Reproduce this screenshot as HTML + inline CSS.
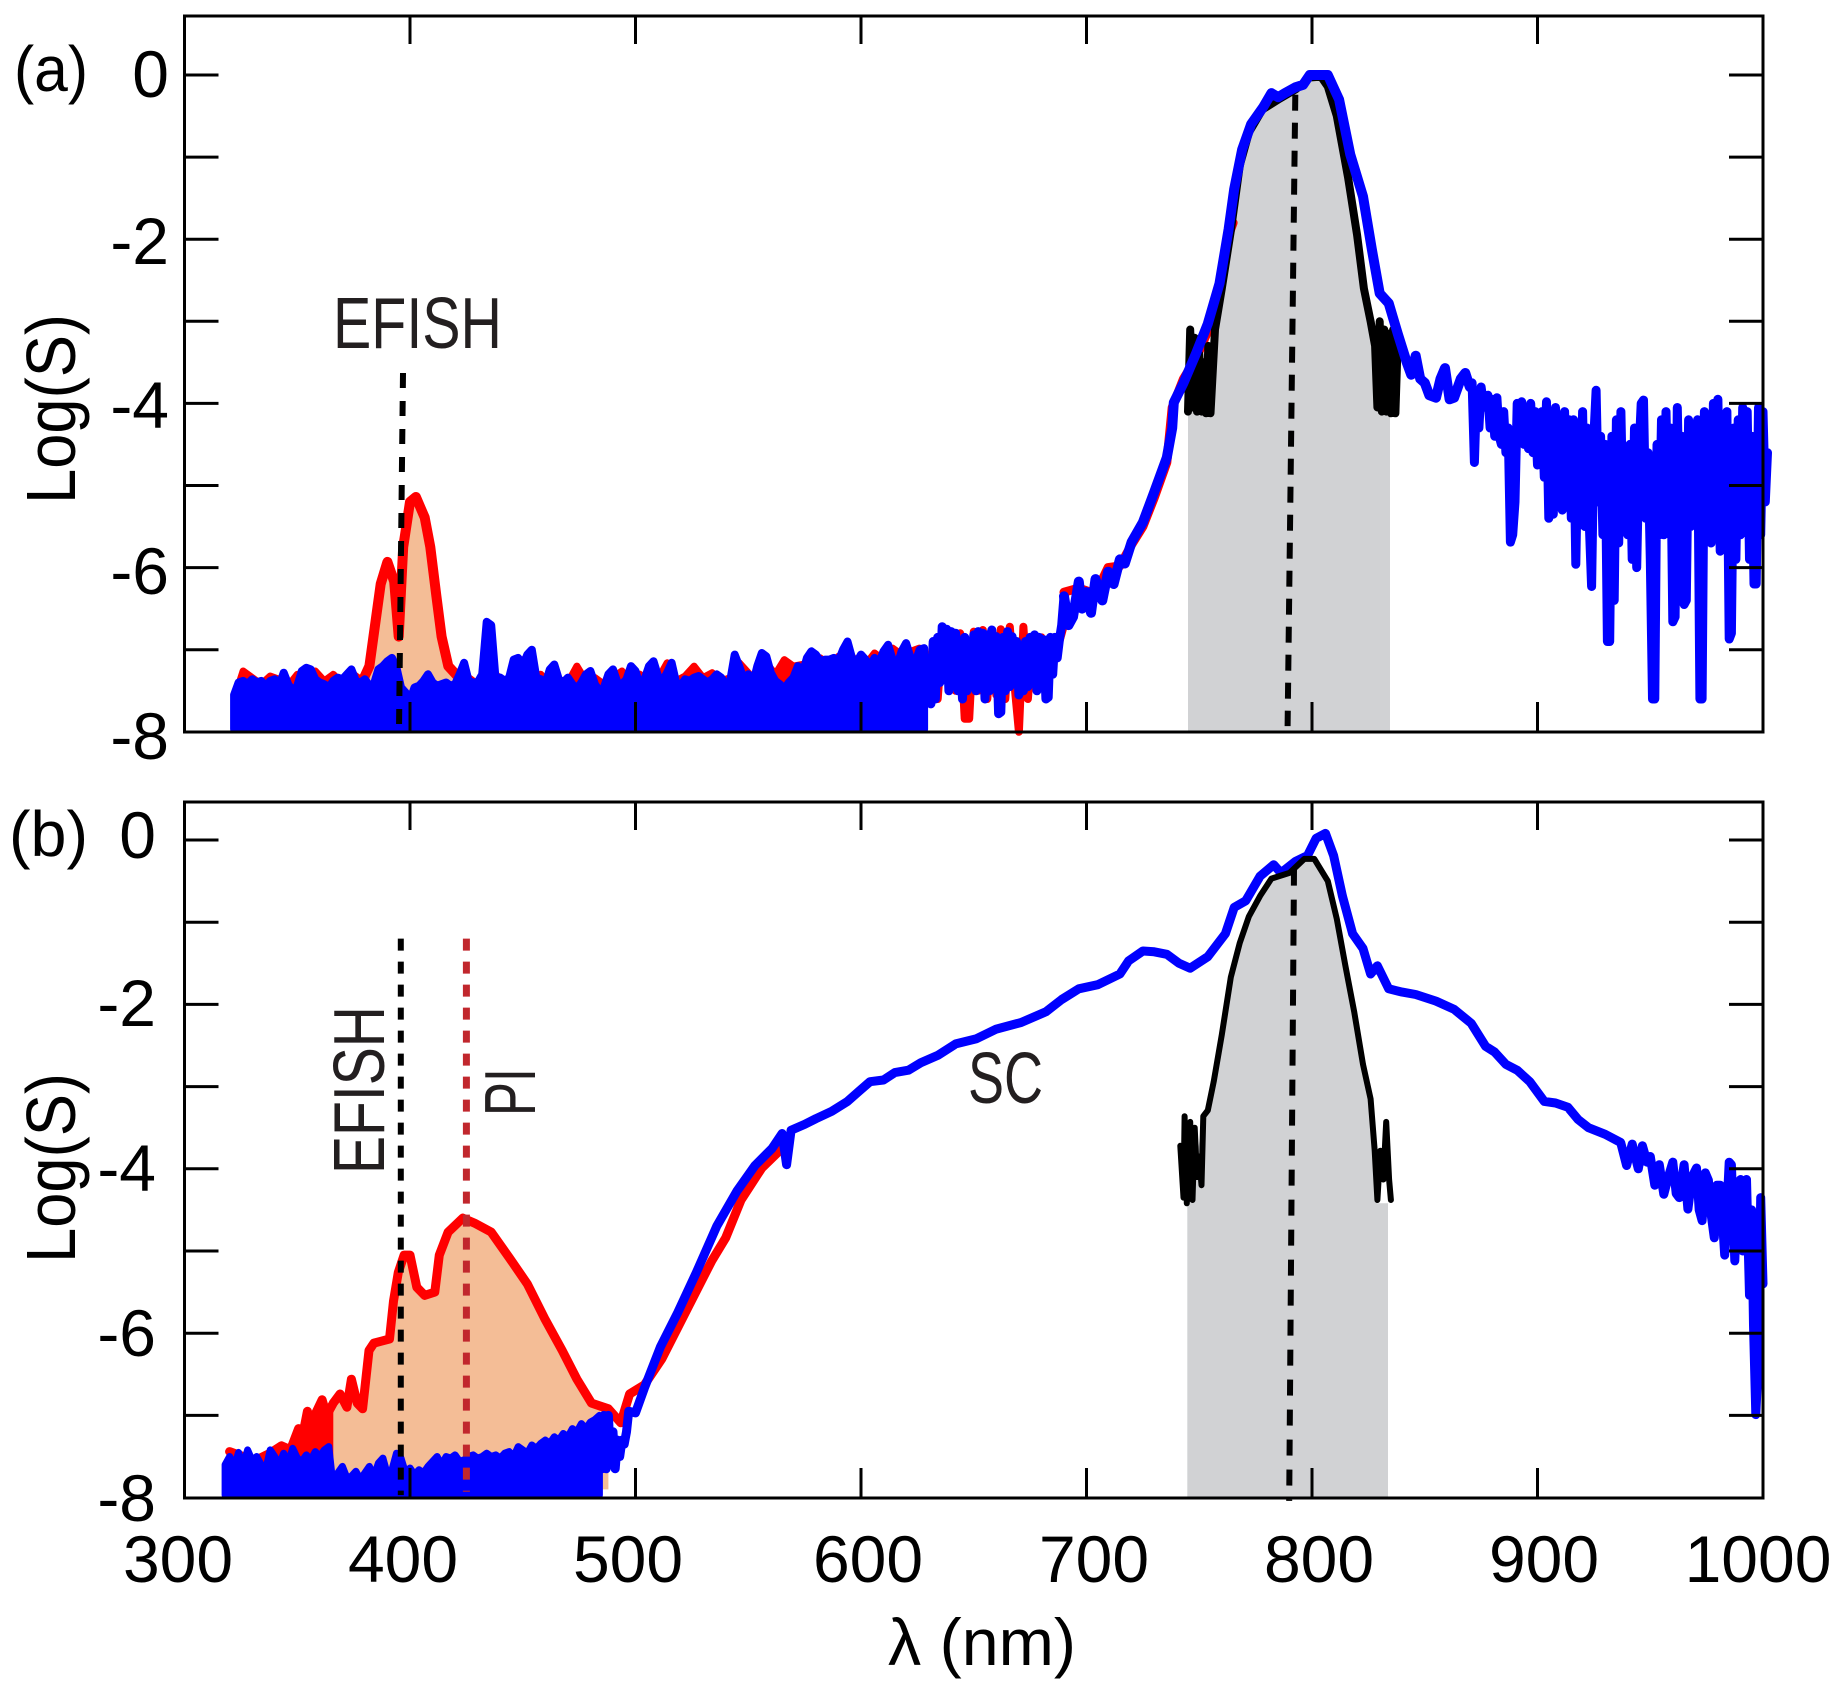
<!DOCTYPE html>
<html lang="en">
<head>
<meta charset="utf-8">
<title>Log(S) spectra, panels (a) and (b)</title>
<style>
html,body{margin:0;padding:0;background:#fff}
svg{display:block}
text{font-family:"Liberation Sans",sans-serif;fill:#000}
</style>
</head>
<body>
<svg id="chart" xmlns="http://www.w3.org/2000/svg" width="1840" height="1688" viewBox="0 0 1840 1688">
<rect x="0" y="0" width="1840" height="1688" fill="#ffffff"/>
<g id="marks"></g>
<g id="overlay"></g>
<g>
<text x="14" y="91" font-size="64" textLength="74" lengthAdjust="spacingAndGlyphs">(a)</text>
<text x="9" y="856" font-size="64" textLength="79" lengthAdjust="spacingAndGlyphs">(b)</text>
<text transform="translate(75,504) rotate(-90)" font-size="70" textLength="190" lengthAdjust="spacingAndGlyphs">Log(S)</text>
<text transform="translate(75,1263) rotate(-90)" font-size="70" textLength="190" lengthAdjust="spacingAndGlyphs">Log(S)</text>
<text x="169" y="97" font-size="66" text-anchor="end">0</text>
<text x="169" y="264" font-size="66" text-anchor="end">-2</text>
<text x="169" y="428" font-size="66" text-anchor="end">-4</text>
<text x="169" y="594" font-size="66" text-anchor="end">-6</text>
<text x="169" y="759" font-size="66" text-anchor="end">-8</text>
<text x="156" y="858" font-size="66" text-anchor="end">0</text>
<text x="156" y="1026" font-size="66" text-anchor="end">-2</text>
<text x="156" y="1191" font-size="66" text-anchor="end">-4</text>
<text x="156" y="1356" font-size="66" text-anchor="end">-6</text>
<text x="156" y="1521" font-size="66" text-anchor="end">-8</text>
<text x="178" y="1582" font-size="66" text-anchor="middle">300</text>
<text x="403" y="1582" font-size="66" text-anchor="middle">400</text>
<text x="628" y="1582" font-size="66" text-anchor="middle">500</text>
<text x="868" y="1582" font-size="66" text-anchor="middle">600</text>
<text x="1094" y="1582" font-size="66" text-anchor="middle">700</text>
<text x="1319" y="1582" font-size="66" text-anchor="middle">800</text>
<text x="1544" y="1582" font-size="66" text-anchor="middle">900</text>
<text x="1758" y="1582" font-size="66" text-anchor="middle">1000</text>
<text x="888" y="1665" font-size="66" textLength="188" lengthAdjust="spacingAndGlyphs">λ (nm)</text>
<text x="333" y="348" font-size="72" textLength="169" lengthAdjust="spacingAndGlyphs" style="fill:#231f20">EFISH</text>
<text transform="translate(384,1174) rotate(-90)" font-size="72" textLength="168" lengthAdjust="spacingAndGlyphs" style="fill:#231f20">EFISH</text>
<text transform="translate(535,1116) rotate(-90)" font-size="72" textLength="48" lengthAdjust="spacingAndGlyphs" style="fill:#231f20">PI</text>
<text x="968" y="1103" font-size="72" textLength="75" lengthAdjust="spacingAndGlyphs" style="fill:#231f20">SC</text>
</g>
</svg>
<script>
const xTicks = [300,400,500,600,700,800,900,1000];
const yTicks = [0,-1,-2,-3,-4,-5,-6,-7,-8];

const floorStart = 322;
const floorStep = 2;
const aBlueFloor = [-7.55,-7.4,-7.38,-7.42,-7.36,-7.4,-7.38,-7.45,-7.38,-7.36,-7.44,-7.28,-7.42,-7.5,-7.44,-7.26,-7.22,-7.24,-7.36,-7.4,-7.42,-7.46,-7.38,-7.34,-7.36,-7.3,-7.24,-7.38,-7.4,-7.36,-7.44,-7.42,-7.24,-7.2,-7.14,-7.1,-7.22,-7.46,-7.52,-7.62,-7.46,-7.44,-7.38,-7.3,-7.4,-7.44,-7.42,-7.4,-7.44,-7.42,-7.3,-7.16,-7.38,-7.4,-7.4,-7.3,-6.66,-6.7,-7.38,-7.34,-7.38,-7.34,-7.12,-7.1,-7.2,-7.06,-7.0,-7.34,-7.36,-7.42,-7.24,-7.18,-7.36,-7.4,-7.34,-7.42,-7.48,-7.4,-7.3,-7.26,-7.42,-7.5,-7.46,-7.3,-7.24,-7.4,-7.42,-7.36,-7.2,-7.26,-7.44,-7.36,-7.2,-7.14,-7.32,-7.38,-7.28,-7.16,-7.4,-7.44,-7.36,-7.38,-7.34,-7.32,-7.36,-7.4,-7.36,-7.3,-7.34,-7.42,-7.38,-7.06,-7.2,-7.36,-7.3,-7.42,-7.2,-7.04,-7.08,-7.28,-7.38,-7.42,-7.48,-7.4,-7.34,-7.2,-7.3,-7.1,-7.02,-7.06,-7.14,-7.12,-7.12,-7.1,-7.14,-7.0,-6.9,-7.1,-7.16,-7.06,-7.12,-7.2,-7.1,-7.16,-7.02,-6.94,-7.12,-7.2,-7.02,-6.92,-7.1,-7.16,-7.0,-6.98];
const aRedFloorStep = 4;
const aRedFloor = [-7.6,-7.26,-7.34,-7.42,-7.32,-7.36,-7.44,-7.3,-7.4,-7.26,-7.38,-7.3,-7.42,-7.28,-7.36,-7.34,-7.44,-7.4,-7.48,-7.44,-7.4,-7.42,-7.34,-7.08,-7.38,-7.4,-7.34,-7.42,-7.36,-7.3,-7.4,-7.38,-7.12,-7.38,-7.3,-7.44,-7.36,-7.4,-7.2,-7.38,-7.34,-7.42,-7.34,-7.26,-7.4,-7.3,-7.38,-7.36,-7.16,-7.38,-7.32,-7.2,-7.34,-7.28,-7.38,-7.34,-7.16,-7.28,-7.4,-7.16,-7.3,-7.12,-7.2,-7.18,-7.14,-7.1,-7.2,-7.08,-7.02,-7.14,-7.18,-7.04,-7.12,-6.98,-7.06,-7.02,-6.98];
const aRedPeakW = [378,382,384,387,390,393,395,397,400,402.6,406.5,409,411.7,414,417,421,424];
const aRedPeakV = [-7.44,-7.2,-6.8,-6.2,-5.93,-6.17,-6.84,-5.75,-5.2,-5.14,-5.39,-5.75,-6.35,-6.84,-7.2,-7.32,-7.4];
const aRedMidStart = 630;
const aRedMidStep = 2;
const aRedMid = [-7.4,-6.9,-7.6,-6.85,-7.3,-6.8,-7.5,-6.8,-7.84,-7.84,-6.78,-7.5,-6.76,-7.6,-6.8,-7.55,-6.75,-7.6,-6.72,-7.4,-8.0,-6.72,-7.6,-6.85,-7.3,-6.85,-7.2,-6.85,-7.1,-6.9,-6.7];
const aRedMainW = [690,696.6,704,709.6,714.8,720,725,730,735.6,738,743,748.6,753.8,759,763,765];
const aRedMainV = [-6.3,-6.25,-6.32,-6.0,-5.98,-5.72,-5.5,-5.15,-4.72,-4.05,-3.7,-3.45,-3.12,-2.62,-1.95,-1.8];
const aBlackW = [745,746,747,748,749,750,751,752,753,754,755,757,760,764,768,772,778,785,793,799,804,807,811,816,820,823,826,828,829,830,831,832,833,834,835,836,837,838];
const aBlackV = [-4.1,-3.1,-4.05,-3.2,-4.1,-3.4,-4.1,-3.5,-4.12,-3.3,-4.12,-3.1,-2.6,-1.9,-1.1,-0.7,-0.42,-0.3,-0.17,-0.03,-0.02,-0.14,-0.5,-1.25,-1.95,-2.6,-3.0,-3.3,-4.05,-3.0,-4.1,-3.1,-4.1,-3.15,-4.12,-3.1,-4.12,-3.25];
const aGrayW = [745,752,757,760,764,768,772,778,785,793,799,806,811,816,820,824,828,829,834.6];
const aGrayV = [-4.03,-3.6,-3.1,-2.6,-1.9,-1.1,-0.7,-0.42,-0.3,-0.17,-0.02,-0.05,-0.4,-1.2,-1.9,-2.6,-3.3,-4.03,-4.03];
const aBlueMidStart = 630;
const aBlueMidStep = 1;
const aBlueMid = [-7.1,-7.66,-6.9,-7.6,-6.85,-7.4,-6.72,-7.3,-6.75,-7.5,-6.78,-7.4,-6.8,-7.5,-6.95,-7.6,-6.85,-7.5,-6.92,-7.3,-6.82,-7.5,-6.78,-7.4,-6.8,-7.6,-6.82,-7.5,-6.76,-7.4,-6.84,-7.78,-7.76,-6.85,-7.5,-6.78,-7.45,-6.84,-7.3,-6.9,-7.55,-7.0,-7.5,-6.9,-7.45,-6.85,-7.3,-6.82,-7.5,-6.85,-7.3,-6.88,-7.6,-7.58,-6.85,-7.3,-6.85,-7.1,-6.88,-6.7,-6.35];
const aBlueMainW = [690,692,694,696.6,698,700,702,704,707,709.6,712,714.8,717,720,725,730,735.6,738,738.7,743,748.6,753.8,759,763,765.5,769,773,778.4,782,785,788,792.7,796,799,803,807,812,817,822.6,826.5,830,834,838,842,844,846,848,850,852,855,857,859,861,863,866,868,870];
const aBlueMainV = [-6.35,-6.7,-6.6,-6.17,-6.5,-6.3,-6.55,-6.14,-6.4,-6.05,-6.2,-5.9,-5.95,-5.69,-5.45,-5.08,-4.66,-4.3,-3.99,-3.75,-3.39,-3.03,-2.54,-1.88,-1.39,-0.91,-0.6,-0.39,-0.22,-0.27,-0.22,-0.15,-0.12,0,0,0,-0.3,-0.97,-1.48,-2.12,-2.66,-2.78,-3.15,-3.5,-3.65,-3.42,-3.7,-3.75,-3.9,-3.93,-3.7,-3.57,-3.95,-3.93,-3.7,-3.63,-3.8];
const aBlueTailStart = 871;
const aBlueTailStep = 1;
const aBlueTail = [-3.75,-4.72,-3.85,-4.3,-3.8,-4.0,-4.05,-3.9,-4.3,-3.95,-4.4,-3.93,-4.4,-4.5,-4.1,-4.6,-4.3,-5.69,-5.6,-5.2,-4.0,-4.4,-3.98,-4.5,-4.05,-4.55,-4.0,-4.6,-4.1,-4.75,-4.6,-4.1,-4.9,-3.98,-5.4,-4.3,-5.35,-4.05,-4.9,-4.3,-5.3,-4.1,-5.2,-4.2,-5.4,-4.2,-5.96,-4.4,-5.4,-4.1,-5.5,-4.3,-5.5,-6.23,-4.4,-3.84,-5.2,-4.4,-5.6,-4.5,-6.9,-6.9,-4.4,-6.4,-4.2,-5.7,-4.1,-5.5,-4.9,-5.6,-4.5,-5.9,-4.3,-6.0,-4.6,-4.0,-3.96,-5.4,-4.6,-5.9,-7.6,-7.6,-4.5,-5.6,-4.2,-5.6,-4.1,-5.4,-4.3,-6.66,-6.6,-4.05,-5.5,-4.4,-6.45,-6.4,-4.2,-5.5,-4.3,-5.2,-4.2,-7.6,-7.6,-4.1,-5.6,-4.3,-5.7,-4.0,-5.5,-3.95,-5.8,-4.2,-5.6,-4.1,-6.87,-6.8,-4.3,-5.9,-4.2,-5.6,-4.05,-5.4,-4.1,-5.9,-4.4,-6.2,-6.2,-4.05,-5.6,-4.1,-5.2,-4.6];

const bFloorStart = 318;
const bBlueFloor = [-7.6,-7.5,-7.62,-7.45,-7.62,-7.42,-7.55,-7.5,-7.6,-7.66,-7.42,-7.5,-7.6,-7.46,-7.58,-7.4,-7.52,-7.56,-7.48,-7.54,-7.44,-7.5,-7.42,-7.38,-7.88,-7.7,-7.62,-7.76,-7.74,-7.68,-7.78,-7.7,-7.62,-7.74,-7.58,-7.52,-7.72,-7.66,-7.46,-7.52,-7.7,-7.64,-7.72,-7.66,-7.7,-7.62,-7.56,-7.5,-7.6,-7.5,-7.52,-7.48,-7.56,-7.54,-7.5,-7.48,-7.52,-7.5,-7.46,-7.5,-7.48,-7.52,-7.46,-7.44,-7.5,-7.38,-7.42,-7.46,-7.36,-7.4,-7.34,-7.3,-7.34,-7.26,-7.3,-7.22,-7.26,-7.16,-7.2,-7.1,-7.16,-7.08,-7.05,-7.0];
const bRedW = [320,328,332,338,343,347,350.6,352,354.5,356,361,363,366,369,372,374,376.6,379,381.8,384,390.9,392.7,394.8,397.4,400,403,406.5,411,413,416.9,423.4,428.6,436,444,452,459.7,467.5,474,480.5,488,493.5,497.4,503.9,511.7,524.7,533.8,540,546.8,556,565];
const bRedV = [-7.44,-7.52,-7.54,-7.46,-7.37,-7.42,-7.16,-7.3,-6.95,-7.1,-6.81,-7.0,-6.85,-6.74,-6.9,-6.56,-6.85,-6.92,-6.21,-6.12,-6.07,-5.61,-5.26,-5.05,-5.05,-5.44,-5.54,-5.5,-5.05,-4.77,-4.6,-4.66,-4.77,-5.08,-5.4,-5.82,-6.21,-6.56,-6.85,-6.92,-7.09,-6.74,-6.63,-6.31,-5.61,-5.12,-4.84,-4.38,-3.99,-3.75];
const bBlueLineW = [484,485,486,487,488,489,490,491,492,493,494,495,496,497,500,503.9,511,518.7,527,536,545,553,560.6,565,567,569,575,580,587,594,599,604,610,615,621,626.5,634,642,651,660,671,682,689,696.6,705,714.8,718.7,725,730,735.6,741,746,753.8,761.6,765.5,770.6,777,783,786.2,792.7,798,801.8,806,809.6,813.5,818,822.6,826,829,834,840,846,855,863,870.6,877,881,886,891,896.6,903,908,913.5,918,922.6,930,936.9,939.5,942,944.7,946.5,948.6,950,952,954,956,958,960,961.5,962.9,965,966.7,968.5,970.5,971.7,973,974.4,975.8,977,978.4,979.5,981,983,985,986,987.5,988.7,990,991,992.7,994,995,995.8,996.8,997.9,999,1000];
const bBlueLineV = [-7.1,-7.65,-7.0,-7.65,-7.0,-7.6,-7.2,-7.65,-7.3,-7.5,-7.3,-7.35,-7.2,-6.95,-6.97,-6.67,-6.17,-5.75,-5.26,-4.7,-4.27,-3.96,-3.75,-3.57,-3.95,-3.53,-3.46,-3.39,-3.3,-3.18,-3.06,-2.94,-2.92,-2.83,-2.8,-2.71,-2.62,-2.48,-2.42,-2.3,-2.22,-2.09,-1.94,-1.81,-1.76,-1.63,-1.47,-1.35,-1.36,-1.39,-1.5,-1.56,-1.42,-1.14,-0.82,-0.74,-0.44,-0.3,-0.4,-0.26,-0.19,0.02,0.08,-0.19,-0.68,-1.14,-1.32,-1.63,-1.53,-1.81,-1.85,-1.88,-1.96,-2.06,-2.23,-2.51,-2.58,-2.73,-2.8,-2.94,-3.18,-3.2,-3.25,-3.4,-3.5,-3.58,-3.68,-3.96,-3.7,-4.0,-3.72,-3.92,-3.85,-4.2,-3.95,-4.31,-4.1,-3.92,-4.3,-4.35,-3.95,-4.49,-4.1,-3.99,-4.5,-4.63,-4.05,-4.14,-4.55,-4.84,-4.2,-4.2,-5.05,-3.92,-3.95,-5.12,-4.2,-4.13,-5.0,-4.13,-5.54,-4.5,-5.9,-6.99,-6.32,-4.35,-5.4,-4.4];
const bBlackW = [741.6,743,743.5,744.5,746,747,748,749,750,751,751.8,753.8,756.4,760,764,768,772,777,782,790,796.6,801,807,811,814.8,818.7,822.6,826,827.8,829,830.3,831.6,832.9,834.2,835];
const bBlackV = [-3.72,-4.35,-3.36,-4.42,-3.43,-4.38,-3.5,-4.1,-3.85,-4.2,-3.36,-3.29,-2.94,-2.37,-1.67,-1.25,-0.93,-0.68,-0.47,-0.4,-0.23,-0.23,-0.5,-0.96,-1.53,-2.09,-2.73,-3.15,-3.78,-4.38,-3.78,-4.13,-3.43,-4.13,-4.38];
const bGrayW = [744.7,752,756.4,760,764,768,772,777,782,790,796.6,801,807,811,814.8,818.7,822.6,826,829,833.7];
const bGrayV = [-4.42,-3.4,-2.94,-2.37,-1.67,-1.25,-0.93,-0.68,-0.47,-0.4,-0.23,-0.23,-0.5,-0.96,-1.53,-2.09,-2.73,-3.15,-4.42,-4.42];

const guideEfishAW = [396.9,395.1];
const guideEfishAV = [-3.63,-7.97];
const guideCenterAW = [792.6,789.2];
const guideCenterAV = [-0.24,-7.93];
const guideEfishBW = [395.9,395.9];
const guideEfishBV = [-1.2,-7.97];
const guidePiW = [425,425];
const guidePiV = [-1.2,-7.93];
const guideCenterBW = [792,789.9];
const guideCenterBV = [-0.36,-8.04];

const NS = 'http://www.w3.org/2000/svg';
const marks = document.getElementById('marks');
const overlay = document.getElementById('overlay');
const plotLeft = 184.5, plotRight = 1763;
const panelA = {top:16, bottom:732, zero:75, unit:82.1};
const panelB = {top:802, bottom:1498, zero:840, unit:82.2};
function xScale(w){ return plotLeft + (w-300)*(plotRight-plotLeft)/700; }
function yScale(p,v){ return p.zero - v*p.unit; }
function grid(start,step,n){ const g=[]; for(let i=0;i<n;i++) g.push(start+i*step); return g; }
function pts(p,ws,vs){ return ws.map((w,i)=>xScale(w).toFixed(1)+','+yScale(p,vs[i]).toFixed(1)); }
function linePath(p,ws,vs){ return 'M'+pts(p,ws,vs).join('L'); }
function areaPath(p,ws,vs,base){
  return 'M'+xScale(ws[0]).toFixed(1)+','+yScale(p,base).toFixed(1)+'L'+pts(p,ws,vs).join('L')+'L'+xScale(ws[ws.length-1]).toFixed(1)+','+yScale(p,base).toFixed(1)+'Z';
}
function mk(parent,tag,attrs){
  const el=document.createElementNS(NS,tag);
  for(const k in attrs) el.setAttribute(k,attrs[k]);
  parent.appendChild(el);
  return el;
}
const lineStyle={fill:'none','stroke-linejoin':'round','stroke-linecap':'round'};
function strokeAttrs(d,color,width){ return Object.assign({d:d,stroke:color,'stroke-width':width},lineStyle); }
function rangeOf(ws,vs,lo,hi){
  const W=[],V=[];
  ws.forEach((w,i)=>{ if(w>=lo&&w<=hi){W.push(w);V.push(vs[i]);} });
  return [W,V];
}
let el;
const RED='#ff0000', BLUE='#0000ff', BLACK='#000000', GRAY='#d1d2d4', ORANGE='#f4bd96';

/* panel a */
el = mk(marks,'path',{d:areaPath(panelA,aGrayW,aGrayV,-8),fill:GRAY});


const aRedFloorW = grid(floorStart,aRedFloorStep,aRedFloor.length);
el = mk(marks,'path',{d:areaPath(panelA,aRedFloorW,aRedFloor,-7.97),fill:RED,stroke:RED,'stroke-width':7,'stroke-linejoin':'round'});


el = mk(marks,'path',{d:areaPath(panelA,aRedPeakW.slice(1,16),aRedPeakV.slice(1,16),-7.9),fill:ORANGE});


el = mk(marks,'path',strokeAttrs(linePath(panelA,aRedPeakW,aRedPeakV),RED,10));


el = mk(marks,'path',strokeAttrs(linePath(panelA,grid(aRedMidStart,aRedMidStep,aRedMid.length),aRedMid),RED,8));


el = mk(marks,'path',strokeAttrs(linePath(panelA,aRedMainW,aRedMainV),RED,9));


el = mk(marks,'path',strokeAttrs(linePath(panelA,aBlackW,aBlackV),BLACK,8));


el = mk(marks,'path',{d:areaPath(panelA,grid(floorStart,floorStep,aBlueFloor.length),aBlueFloor,-7.97),fill:BLUE,stroke:BLUE,'stroke-width':8,'stroke-linejoin':'round'});


el = mk(marks,'path',strokeAttrs(linePath(panelA,grid(aBlueMidStart,aBlueMidStep,aBlueMid.length),aBlueMid),BLUE,9));


el = mk(marks,'path',strokeAttrs(linePath(panelA,aBlueMainW,aBlueMainV),BLUE,10));


el = mk(marks,'path',strokeAttrs(linePath(panelA,grid(aBlueTailStart,aBlueTailStep,aBlueTail.length),aBlueTail),BLUE,9));



/* panel b */
el = mk(marks,'path',{d:areaPath(panelB,bGrayW,bGrayV,-8),fill:GRAY});


const bFill = rangeOf(bRedW,bRedV,361,488);
el = mk(marks,'path',{d:areaPath(panelB,bFill[0],bFill[1],-7.9),fill:ORANGE});


const bRedLow = rangeOf(bRedW,bRedV,320,366);
el = mk(marks,'path',{d:areaPath(panelB,bRedLow[0],bRedLow[1],-7.97),fill:RED});


el = mk(marks,'path',strokeAttrs(linePath(panelB,bRedW,bRedV),RED,9));


el = mk(marks,'path',{d:areaPath(panelB,grid(bFloorStart,floorStep,bBlueFloor.length),bBlueFloor,-7.97),fill:BLUE,stroke:BLUE,'stroke-width':7,'stroke-linejoin':'round'});


el = mk(marks,'path',strokeAttrs(linePath(panelB,bBlueLineW,bBlueLineV),BLUE,9));


el = mk(marks,'path',strokeAttrs(linePath(panelB,bBlackW,bBlackV),BLACK,6));



/* guides */
el = mk(overlay,'path',{d:linePath(panelA,guideEfishAW,guideEfishAV),stroke:BLACK,'stroke-width':6,'stroke-dasharray':'15 13',fill:'none'});


el = mk(overlay,'path',{d:linePath(panelA,guideCenterAW,guideCenterAV),stroke:BLACK,'stroke-width':6,'stroke-dasharray':'16 12',fill:'none'});


el = mk(overlay,'path',{d:linePath(panelB,guideEfishBW,guideEfishBV),stroke:BLACK,'stroke-width':6,'stroke-dasharray':'12 11',fill:'none'});


el = mk(overlay,'path',{d:linePath(panelB,guidePiW,guidePiV),stroke:'#c1272d','stroke-width':7,'stroke-dasharray':'12 11',fill:'none'});


el = mk(overlay,'path',{d:linePath(panelB,guideCenterBW,guideCenterBV),stroke:BLACK,'stroke-width':6,'stroke-dasharray':'16 14',fill:'none'});



/* axes */
[panelA,panelB].forEach(function(p,idx){
  const tag = idx===0?'a':'b';
  const frame = mk(overlay,'rect',{x:plotLeft,y:p.top,width:plotRight-plotLeft,height:p.bottom-p.top,fill:'none',stroke:BLACK,'stroke-width':3});
  
  
  xTicks.slice(1,-1).forEach(function(t){
    const x=xScale(t);
    const topTick = mk(overlay,'line',{x1:x,x2:x,y1:p.top,y2:p.top+28,stroke:BLACK,'stroke-width':3});
    
    
    const botTick = mk(overlay,'line',{x1:x,x2:x,y1:p.bottom,y2:p.bottom-30,stroke:BLACK,'stroke-width':3});
    
    
  });
  yTicks.slice(0,-1).forEach(function(t){
    const y=yScale(p,t);
    const leftTick = mk(overlay,'line',{x1:plotLeft,x2:plotLeft+34,y1:y,y2:y,stroke:BLACK,'stroke-width':3});
    
    
    const rightTick = mk(overlay,'line',{x1:plotRight,x2:plotRight-34,y1:y,y2:y,stroke:BLACK,'stroke-width':3});
    
    
  });
});
</script>
</body>
</html>
